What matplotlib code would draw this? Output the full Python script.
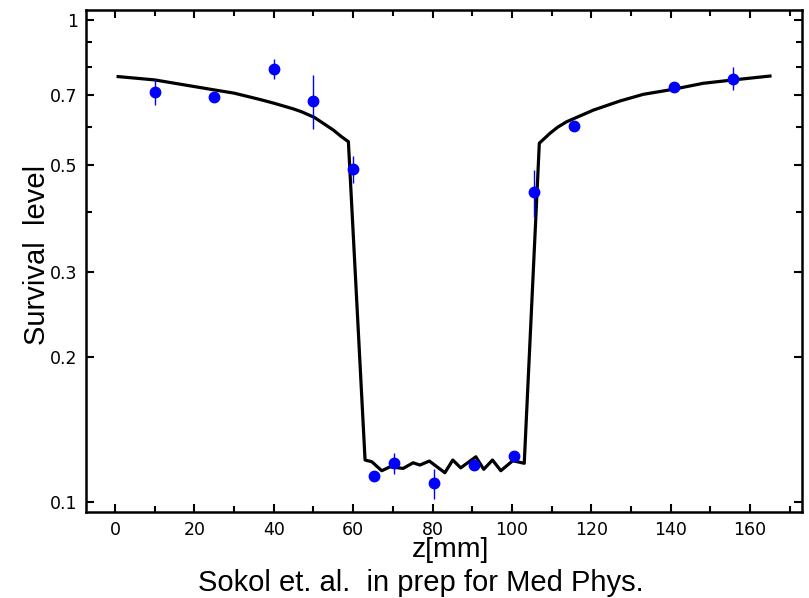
import numpy as np
import matplotlib
matplotlib.use('Agg')
import matplotlib.pyplot as plt
from matplotlib.ticker import FixedLocator, FixedFormatter, NullFormatter

# measured survival points (z in mm) with lower/upper error limits
z_meas = [10, 25, 40, 50, 60, 65.3, 70.4, 80.4, 90.4, 100.6, 105.6, 115.6, 140.7, 155.8]
s_meas = [0.709, 0.693, 0.790, 0.680, 0.490, 0.1131, 0.1202, 0.1092, 0.1192, 0.1244, 0.4395, 0.6025, 0.727, 0.755]
s_low = [0.666, 0.693, 0.754, 0.593, 0.459, 0.1131, 0.1142, 0.1012, 0.1192, 0.1244, 0.3905, 0.6025, 0.727, 0.716]
s_high = [0.754, 0.693, 0.829, 0.769, 0.523, 0.1131, 0.126, 0.117, 0.1192, 0.1244, 0.488, 0.6025, 0.727, 0.798]

# calculated survival curve
z_calc = [0.8, 10, 25, 30, 36.5, 40, 44.9, 47, 50.2, 52.5, 55, 57, 58.8,
          63.0, 64.7, 67.2, 69.3, 72.6, 75.1, 76.8, 79.2, 83.1, 85.1, 87.1, 90.9,
          92.9, 95.1, 97.2, 100.2, 103.1, 106.9, 109.6, 111.5, 113.8, 120.5, 127.2,
          133.1, 140.6, 148.2, 155.8, 165]
s_calc = [0.763, 0.751, 0.716, 0.705, 0.684, 0.672, 0.654, 0.645, 0.628, 0.610, 0.591, 0.573, 0.559,
          0.1221, 0.1211, 0.1160, 0.1182, 0.1173, 0.1205, 0.1192, 0.1215, 0.1149, 0.1221, 0.1176, 0.1240,
          0.1168, 0.1221, 0.1160, 0.1217, 0.1202, 0.555, 0.582, 0.599, 0.615, 0.650, 0.679,
          0.701, 0.718, 0.739, 0.751, 0.765]

y_ticks = [0.1, 0.2, 0.3, 0.5, 0.7, 1.0]
y_ticklabels = ['0.1', '0.2', '0.3', '0.5', '0.7', '1']
y_minor = [0.4, 0.6, 0.8, 0.9]

fig = plt.figure(figsize=(8.09, 5.98), dpi=100)
ax = fig.add_axes([0.1063, 0.1433, 0.8847, 0.84])

ax.plot(z_calc, s_calc, color='black', lw=2.3, zorder=2)

s_meas = np.array(s_meas)
yerr = [s_meas - np.array(s_low), np.array(s_high) - s_meas]
ax.errorbar(z_meas, s_meas, yerr=yerr, fmt='o', color='blue', ms=7.5,
            elinewidth=1.0, capsize=0, zorder=3)

ax.set_yscale('log')
ax.set_xlim(-7.3, 173)
ax.set_ylim(0.0951, 1.049)

ax.yaxis.set_major_locator(FixedLocator(y_ticks))
ax.yaxis.set_major_formatter(FixedFormatter(y_ticklabels))
ax.yaxis.set_minor_locator(FixedLocator(y_minor))
ax.yaxis.set_minor_formatter(NullFormatter())
ax.set_xticks(np.arange(0, 161, 20))
ax.set_xticks(np.arange(10, 171, 20), minor=True)

for s in ax.spines.values():
    s.set_linewidth(1.8)
ax.tick_params(which='both', direction='in', top=True, right=True, width=1.5,
               labelsize=12.5, pad=6)
ax.tick_params(which='major', length=6)
ax.tick_params(which='minor', length=4)

fig.text(0.046, 0.574, 'Survival  level', rotation=90, ha='center', va='center',
         fontsize=21, family='Liberation Sans')
fig.text(0.557, 0.080, 'z[mm]', ha='center', va='center', fontsize=20.5,
         family='Liberation Sans')
fig.text(0.520, 0.025, 'Sokol et. al.  in prep for Med Phys.', ha='center', va='center',
         fontsize=21, family='Liberation Sans')

fig.savefig('out.png', dpi=100)
